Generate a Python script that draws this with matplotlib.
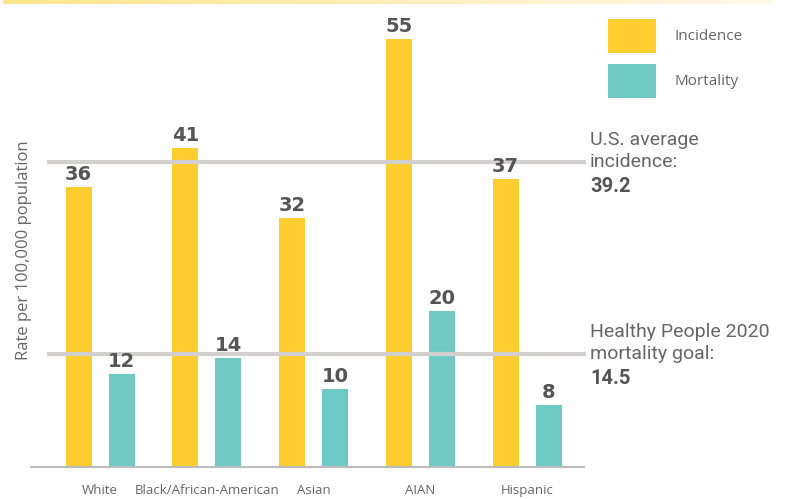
import numpy as np
import matplotlib.pyplot as plt
from matplotlib.colors import LinearSegmentedColormap

groups = ["White", "Black/African-American", "Asian", "AIAN", "Hispanic"]
incidence = [36, 41, 32, 55, 37]
mortality = [12, 14, 10, 20, 8]
ref_values = [39.2, 14.5]
ref_lines = [("U.S. average", "incidence:", "39.2"),
             ("Healthy People 2020", "mortality goal:", "14.5")]

YELLOW = "#FFCD30"
TEAL = "#6FCAC6"
REF_GREY = "#D3CFCF"
TEXT = "#666666"
DARK = "#555555"

W, H, DPI = 793, 499, 100
fig = plt.figure(figsize=(W / DPI, H / DPI), dpi=DPI)

# thin gradient strip along the top edge
strip = fig.add_axes([3 / W, 1 - 4 / H, 770 / W, 4 / H])
grad = np.linspace(0, 1, 256)[None, :]
cm = LinearSegmentedColormap.from_list("strip", ["#FFE48C", "#FFF9EA"])
strip.imshow(grad, aspect="auto", cmap=cm)
strip.axis("off")

# main axes, placed in pixels
left, right, base = 31, 584, 467
px_per_unit = 7.78
ymax = 58
ax = fig.add_axes([left / W, 1 - base / H, (right - left) / W, ymax * px_per_unit / H])

spacing = 106.75
x = np.arange(len(groups))
xmin = (left - 100) / spacing
xmax = (right - 100) / spacing
bw = 26 / spacing
off = 21.5 / spacing

b1 = ax.bar(x - off, incidence, bw, color=YELLOW, label="Incidence", zorder=1)
b2 = ax.bar(x + off, mortality, bw, color=TEAL, label="Mortality", zorder=1)

ax.set_xlim(xmin, xmax)
ax.set_ylim(0, ymax)

for bars, vals in ((b1, incidence), (b2, mortality)):
    for rect, v in zip(bars, vals):
        ax.annotate(f"{v}", (rect.get_x() + rect.get_width() / 2, v),
                    xytext=(0, 5), textcoords="offset points",
                    ha="center", va="baseline", fontsize=14,
                    fontweight="bold", color=DARK, zorder=4)

# reference lines with notes on the right
line_start = (49 - left) / (right - left)
tr = ax.get_yaxis_transform()
tx = (590 - left) / (right - left)
for val, (l1, l2, l3) in zip(ref_values, ref_lines):
    ax.axhline(val, xmin=line_start, xmax=1, color=REF_GREY, lw=3, zorder=3,
               clip_on=False)
    for txt, dy, bold in ((l1, 17, False), (l2, -5, False), (l3, -30, True)):
        ax.annotate(txt, (tx, val), xycoords=tr, xytext=(0, dy * 0.72),
                    textcoords="offset points", ha="left", va="baseline",
                    fontsize=14.5 if bold else 14, family="Roboto",
                    fontweight="bold" if bold else "normal",
                    color=DARK if bold else TEXT, annotation_clip=False)

for s in ("top", "right", "left"):
    ax.spines[s].set_visible(False)
ax.spines["bottom"].set_color("#BBBBBB")
ax.spines["bottom"].set_linewidth(1.5)
ax.set_yticks([])
ax.set_xticks(x)
ax.set_xticklabels(groups, family="Open Sans", fontsize=9.5, color=TEXT)
ax.tick_params(axis="x", length=0, pad=12)

fig.text(24 / W, 1 - 250 / H, "Rate per 100,000 population", rotation=90,
         ha="center", va="center", family="Open Sans", fontsize=12,
         color=TEXT)

leg = fig.legend(handles=[b1, b2], loc="upper left",
                 bbox_to_anchor=(608 / W, 1 - 19 / H), frameon=False,
                 borderpad=0, borderaxespad=0, handlelength=3.14,
                 handleheight=3.05, labelspacing=0.72, handletextpad=1.18,
                 prop={"family": "Open Sans", "size": 11})
for t in leg.get_texts():
    t.set_color(TEXT)

fig.savefig("out.png", dpi=DPI)
